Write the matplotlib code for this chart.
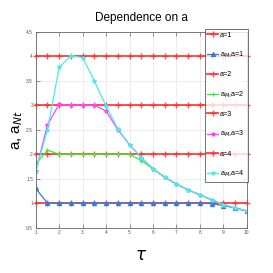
import matplotlib
matplotlib.use('Agg')
import matplotlib.pyplot as plt

plt.rcParams['font.family'] = ['Liberation Sans Narrow', 'Liberation Sans', 'DejaVu Sans']

# time points
tau = [1, 1.5, 2, 2.5, 3, 3.5, 4, 4.5, 5, 5.5, 6, 6.5, 7, 7.5, 8, 8.5, 9, 9.5, 10]

# reference levels a = 1..4
a_levels = [1, 2, 3, 4]

# a_M curves
aM_1 = [1.30, 1.00, 1.00, 1.00, 1.00, 1.00, 1.00, 1.00, 1.00, 1.00, 1.00, 1.00, 1.00, 1.00, 1.00, 0.99, 0.95, 0.90, 0.84]
aM_2 = [1.80, 2.08, 2.00, 2.00, 2.00, 2.00, 2.00, 2.00, 2.00, 1.87, 1.70, 1.53, 1.39, 1.27, 1.17, 1.07, 0.97, 0.90, 0.84]
aM_3 = [1.65, 2.60, 3.02, 3.00, 3.00, 3.00, 2.88, 2.50, 2.19, 1.93, 1.70, 1.53, 1.39, 1.27, 1.17, 1.07, 0.97, 0.90, 0.84]
aM_4 = [1.65, 2.50, 3.77, 4.01, 3.97, 3.49, 2.98, 2.52, 2.19, 1.93, 1.70, 1.53, 1.39, 1.27, 1.17, 1.07, 0.97, 0.90, 0.84]

aM_curves = [aM_1, aM_2, aM_3, aM_4]
aM_colors = ['#2f7fd6', '#33ee33', '#ff44ff', '#44eeee']
aM_markers = ['^', '+', '*', '*']

fig = plt.figure(figsize=(2.73, 2.73), dpi=100)
ax = fig.add_axes([0.131, 0.166, 0.773, 0.718])

for a, curve, col, mk in zip(a_levels, aM_curves, aM_colors, aM_markers):
    ax.plot(tau, [a] * len(tau), color='#ff3030', alpha=0.85, linewidth=1.4,
            marker='+', markersize=4, markeredgewidth=1.0, label='a=%d' % a, clip_on=False)
    ax.plot(tau, curve, color=col, linewidth=0.9, marker=mk, markersize=3,
            markeredgewidth=0.8, label='a$_{M}$,a=%d' % a)

ax.set_xlim(1, 10)
ax.set_ylim(0.5, 4.5)
ax.set_xticks(range(1, 11))
ax.set_yticks([0.5, 1, 1.5, 2, 2.5, 3, 3.5, 4, 4.5])
ax.set_yticklabels(['0.5', '1', '1.5', '2', '2.5', '3', '3.5', '4', '4.5'])
ax.tick_params(direction='in', length=3, width=0.5, labelsize=3.5, labelcolor='#555555',
               color='#666666', top=True, right=True, pad=2)
ax.grid(True, color='#e6e6e6', linewidth=0.5)
for s in ax.spines.values():
    s.set_color('#666666')
    s.set_linewidth(0.6)

ax.set_title('Dependence on a', fontsize=8.5, pad=8)
ax.set_xlabel(r'$\tau$', fontsize=12, labelpad=9)
ax.set_ylabel('a, a$_{Nt}$', fontsize=11, labelpad=1)

leg = ax.legend(loc='upper right', bbox_to_anchor=(1.005, 1.015), fontsize=5.2,
                frameon=True, fancybox=False, edgecolor='#333333', borderpad=0.4,
                labelspacing=1.55, handlelength=1.5, handletextpad=0.25, borderaxespad=0)
leg.get_frame().set_linewidth(0.6)

fig.savefig('out.png', dpi=100)
